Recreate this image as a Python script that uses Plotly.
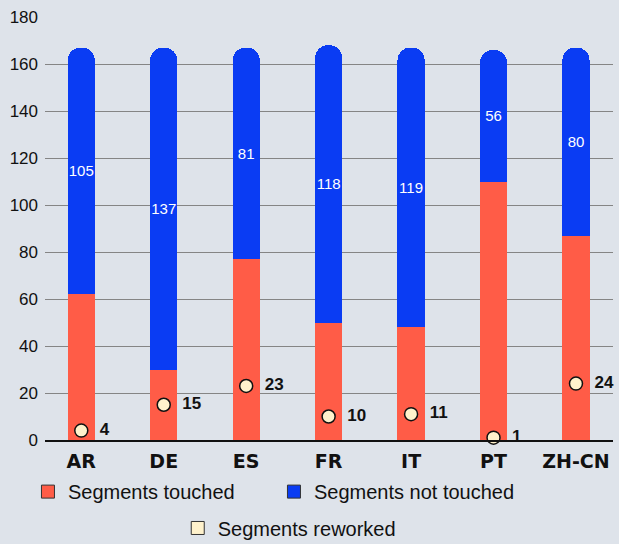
import plotly.graph_objects as go

languages = ["AR", "DE", "ES", "FR", "IT", "PT", "ZH-CN"]
touched = [62, 30, 77, 50, 48, 110, 87]
not_touched = [105, 137, 90, 118, 119, 56, 80]
not_touched_labels = ["105", "137", "81", "118", "119", "56", "80"]
reworked = [4, 15, 23, 10, 11, 1, 24]
series_names = ["Segments touched", "Segments not touched", "Segments reworked"]

RED = "#FF5C47"
BLUE = "#0A3CF3"
CREAM = "#FFF2CC"
BG = "#DEE3EA"
FONT = "Liberation Sans, Arial, sans-serif"

fig = go.Figure()
fig.add_trace(go.Bar(
    x=languages, y=touched, name=series_names[0],
    marker=dict(color=RED, line=dict(width=0)), showlegend=False,
))
fig.add_trace(go.Bar(
    x=languages, y=not_touched, name=series_names[1],
    marker=dict(color=BLUE, line=dict(width=0)), showlegend=False,
    text=not_touched_labels, textposition="inside", insidetextanchor="middle",
    textangle=0, textfont=dict(color="white", size=15, family=FONT),
))
fig.add_trace(go.Scatter(
    x=languages, y=reworked, mode="markers+text", name=series_names[2],
    marker=dict(color=CREAM, size=13, line=dict(color="#111111", width=1.5)),
    text=[str(v) for v in reworked], texttemplate="  %{text}", textposition="middle right",
    textfont=dict(color="#111111", size=17, family=FONT, weight="bold"),
    cliponaxis=False, showlegend=False,
))
# legend entries (square swatches)
for name, color, lg in [(series_names[0], RED, "legend"),
                        (series_names[1], BLUE, "legend"),
                        (series_names[2], CREAM, "legend2")]:
    fig.add_trace(go.Scatter(
        x=[None], y=[None], mode="markers", name=name,
        marker=dict(color=color, size=13, symbol="square",
                    line=dict(color="#333333", width=1)),
        legend=lg,
    ))

fig.update_layout(
    width=619, height=544,
    margin=dict(l=45, r=6, t=17, b=104, autoexpand=False),
    paper_bgcolor=BG, plot_bgcolor=BG,
    barmode="stack", bargap=0.67, barcornerradius="50%",
    uniformtext=dict(mode="show", minsize=15),
    font=dict(family=FONT, color="#111111"),
    xaxis=dict(
        range=[-0.44, 6.449], showgrid=False, showline=True, linecolor="#111111",
        linewidth=2, ticklabelstandoff=3,
        tickfont=dict(size=19, family="DejaVu Sans", weight="bold", color="#111111"),
        fixedrange=True,
    ),
    yaxis=dict(
        range=[0, 180], dtick=20, showgrid=True, gridcolor="#858585", gridwidth=1,
        zeroline=False, showline=False, ticklabelstandoff=6,
        tickfont=dict(size=17, family=FONT, color="#111111"),
    ),
    legend=dict(
        orientation="h", x=-0.03, xanchor="left", y=-0.122, yanchor="middle",
        traceorder="normal",
        font=dict(size=20, family=FONT, color="#111111"), entrywidth=201,
        bgcolor="rgba(0,0,0,0)",
    ),
    legend2=dict(
        orientation="h", x=0.43, xanchor="center", y=-0.208, yanchor="middle",
        font=dict(size=20, family=FONT, color="#111111"),
        bgcolor="rgba(0,0,0,0)",
    ),
)

fig.write_html("out.html")
